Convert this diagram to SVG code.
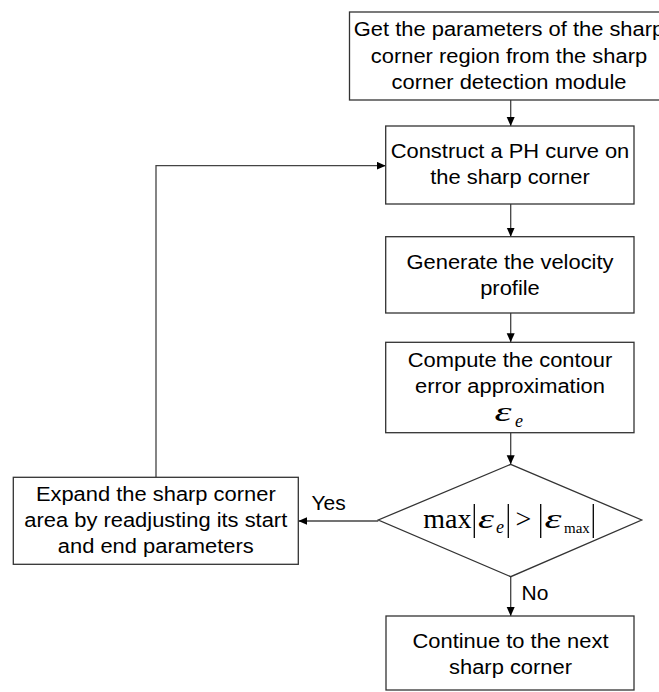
<svg xmlns="http://www.w3.org/2000/svg" width="659" height="692" viewBox="0 0 659 692">
  <style>
    .box { fill: #ffffff; stroke: #333333; stroke-width: 1.3; }
    .lbl { font-family: "Liberation Sans", Arial, sans-serif; font-size: 20px; fill: #000000; text-anchor: middle; }
    .tag { font-family: "Liberation Sans", Arial, sans-serif; font-size: 21px; fill: #000000; }
    .math { font-family: "Liberation Serif", "Times New Roman", serif; fill: #000000; }
    .it { font-style: italic; }
    .bar { stroke: #000000; stroke-width: 1.3; }
    .wire { fill: none; stroke: #444444; stroke-width: 1.3; }
  </style>
  <defs>
    <marker id="arrow" markerUnits="userSpaceOnUse" markerWidth="10" markerHeight="9" refX="9" refY="4" orient="auto">
      <path d="M0,0 L9,4 L0,8 z" fill="#000000"/>
    </marker>
  </defs>
  <rect width="659" height="692" fill="#ffffff"/>

  <g id="connectors">
    <line class="wire" x1="510.7" y1="100" x2="510.7" y2="126" marker-end="url(#arrow)"/>
    <line class="wire" x1="510.7" y1="204" x2="510.7" y2="236.7" marker-end="url(#arrow)"/>
    <line class="wire" x1="510.7" y1="313" x2="510.7" y2="342.3" marker-end="url(#arrow)"/>
    <line class="wire" x1="510.7" y1="432.7" x2="510.7" y2="464.3" marker-end="url(#arrow)"/>
    <line class="wire" x1="510.7" y1="576.7" x2="510.7" y2="616" marker-end="url(#arrow)"/>
    <line class="wire" x1="378.3" y1="521" x2="298.3" y2="521" marker-end="url(#arrow)"/>
    <polyline class="wire" points="156,477.3 156,165.7 385.7,165.7" marker-end="url(#arrow)"/>
    <text class="tag" x="311.5" y="509.5">Yes</text>
    <text class="tag" x="521.5" y="600">No</text>
  </g>

  <g id="get-parameters">
    <rect class="box" x="349.5" y="12" width="320" height="88"/>
    <text class="lbl" x="509" y="36" textLength="310.4" lengthAdjust="spacingAndGlyphs">Get the parameters of the sharp</text>
    <text class="lbl" x="509" y="62.5" textLength="276.3" lengthAdjust="spacingAndGlyphs">corner region from the sharp</text>
    <text class="lbl" x="509" y="89" textLength="234.9" lengthAdjust="spacingAndGlyphs">corner detection module</text>
  </g>

  <g id="construct-ph">
    <rect class="box" x="385.7" y="126" width="248.3" height="78"/>
    <text class="lbl" x="510" y="157.5" textLength="238.6" lengthAdjust="spacingAndGlyphs">Construct a PH curve on</text>
    <text class="lbl" x="510" y="183.5" textLength="159.5" lengthAdjust="spacingAndGlyphs">the sharp corner</text>
  </g>

  <g id="velocity-profile">
    <rect class="box" x="385.7" y="236.7" width="248.3" height="76.3"/>
    <text class="lbl" x="510" y="268.5" textLength="207" lengthAdjust="spacingAndGlyphs">Generate the velocity</text>
    <text class="lbl" x="510" y="294.5" textLength="59.6" lengthAdjust="spacingAndGlyphs">profile</text>
  </g>

  <g id="contour-error">
    <rect class="box" x="385.7" y="342.3" width="248.3" height="90.4"/>
    <text class="lbl" x="510" y="367.3" textLength="204.5" lengthAdjust="spacingAndGlyphs">Compute the contour</text>
    <text class="lbl" x="510" y="393.3" textLength="189.9" lengthAdjust="spacingAndGlyphs">error approximation</text>
    <text class="math it" x="494.5" y="421" font-size="28" textLength="17" lengthAdjust="spacingAndGlyphs">ε</text>
    <text class="math it" x="515" y="426.7" font-size="18">e</text>
  </g>

  <g id="error-check">
    <polygon class="box" points="510.7,464.3 641.7,520 510.7,576.7 378.3,520"/>
    <text class="math" x="423.3" y="527.7" font-size="28">max</text>
    <line class="bar" x1="474.3" y1="504" x2="474.3" y2="538"/>
    <text class="math it" x="478" y="527.7" font-size="28" textLength="16" lengthAdjust="spacingAndGlyphs">ε</text>
    <text class="math it" x="496" y="533" font-size="18">e</text>
    <line class="bar" x1="508.3" y1="504" x2="508.3" y2="538"/>
    <text class="math" x="515.5" y="527.7" font-size="28">&gt;</text>
    <line class="bar" x1="540.7" y1="504" x2="540.7" y2="538"/>
    <text class="math it" x="544.5" y="527.7" font-size="28" textLength="17" lengthAdjust="spacingAndGlyphs">ε</text>
    <text class="math" x="564" y="533" font-size="15">max</text>
    <line class="bar" x1="593.3" y1="504" x2="593.3" y2="538"/>
  </g>

  <g id="expand-area">
    <rect class="box" x="13.3" y="477.3" width="285" height="87"/>
    <text class="lbl" x="155.8" y="500.7" textLength="239.8" lengthAdjust="spacingAndGlyphs">Expand the sharp corner</text>
    <text class="lbl" x="155.8" y="526.8" textLength="262.9" lengthAdjust="spacingAndGlyphs">area by readjusting its start</text>
    <text class="lbl" x="155.8" y="553" textLength="196" lengthAdjust="spacingAndGlyphs">and end parameters</text>
  </g>

  <g id="next-corner">
    <rect class="box" x="386" y="616" width="248" height="74"/>
    <text class="lbl" x="510.5" y="648.3" textLength="196" lengthAdjust="spacingAndGlyphs">Continue to the next</text>
    <text class="lbl" x="510.5" y="673.5" textLength="122.9" lengthAdjust="spacingAndGlyphs">sharp corner</text>
  </g>
</svg>
